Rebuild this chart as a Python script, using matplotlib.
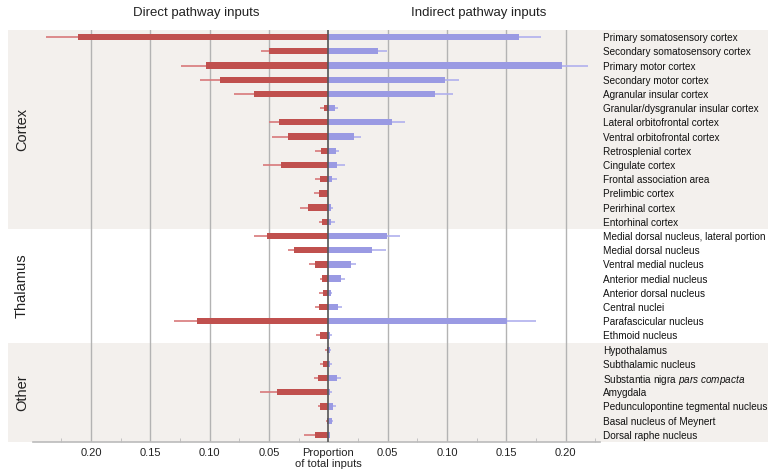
import matplotlib
matplotlib.use('Agg')
import matplotlib.pyplot as plt
import matplotlib.transforms as mtransforms
from matplotlib.patches import Rectangle
import numpy as np

plt.rcParams['font.family'] = ['Liberation Sans', 'DejaVu Sans']
plt.rcParams['mathtext.fontset'] = 'custom'
plt.rcParams['mathtext.rm'] = 'Liberation Sans'
plt.rcParams['mathtext.it'] = 'Liberation Sans:italic'

regions = [
    'Primary somatosensory cortex', 'Secondary somatosensory cortex', 'Primary motor cortex',
    'Secondary motor cortex', 'Agranular insular cortex', 'Granular/dysgranular insular cortex',
    'Lateral orbitofrontal cortex', 'Ventral orbitofrontal cortex', 'Retrosplenial cortex',
    'Cingulate cortex', 'Frontal association area', 'Prelimbic cortex', 'Perirhinal cortex',
    'Entorhinal cortex',
    'Medial dorsal nucleus, lateral portion', 'Medial dorsal nucleus', 'Ventral medial nucleus',
    'Anterior medial nucleus', 'Anterior dorsal nucleus', 'Central nuclei', 'Parafascicular nucleus',
    'Ethmoid nucleus',
    'Hypothalamus', 'Subthalamic nucleus', r'Substantia nigra $\mathit{pars\ compacta}$', 'Amygdala',
    'Pedunculopontine tegmental nucleus', 'Basal nucleus of Meynert', 'Dorsal raphe nucleus',
]
groups = ['Cortex', 'Thalamus', 'Other']
group_sizes = [14, 8, 7]

# mean proportion and upper error (sem) for each pathway
direct = [0.211, 0.050, 0.103, 0.0915, 0.0624, 0.0036, 0.0413, 0.0337, 0.0062, 0.0396, 0.007,
          0.0078, 0.0169, 0.005,
          0.0519, 0.0287, 0.011, 0.0053, 0.0042, 0.0076, 0.1107, 0.0067,
          0.0008, 0.0045, 0.0084, 0.043, 0.0067, 0.0014, 0.0112]
direct_err = [0.027, 0.007, 0.021, 0.017, 0.017, 0.0034, 0.0087, 0.014, 0.0048, 0.0157, 0.004,
              0.004, 0.007, 0.0026,
              0.0105, 0.005, 0.005, 0.0014, 0.0034, 0.0034, 0.0193, 0.0037,
              0.002, 0.0022, 0.0034, 0.0143, 0.0017, 0.0006, 0.0093]
indirect = [0.161, 0.0419, 0.197, 0.098, 0.0896, 0.0056, 0.0534, 0.0217, 0.0065, 0.0073, 0.0031,
            0.0, 0.0023, 0.0023,
            0.0497, 0.0368, 0.0191, 0.0107, 0.002, 0.0082, 0.1509, 0.0017,
            0.0014, 0.0014, 0.007, 0.0017, 0.0037, 0.0028, 0.0011]
indirect_err = [0.018, 0.0076, 0.022, 0.012, 0.0152, 0.0023, 0.0116, 0.0056, 0.0022, 0.0065, 0.0042,
                0.0, 0.0014, 0.0031,
                0.0103, 0.0115, 0.004, 0.0031, 0.0008, 0.0033, 0.0244, 0.0011,
                0.0006, 0.0017, 0.0034, 0.0014, 0.0025, 0.0009, 0.0003]

red = '#c0504e'
red_light = '#d8797a'
blue = '#9a9ae3'
blue_light = '#b0b0ee'
band = '#f3f0ed'

y = np.arange(len(regions))
direct = np.array(direct)
indirect = np.array(indirect)

fig = plt.figure(figsize=(7.68, 4.75), dpi=100)
ax = fig.add_axes([33 / 768, 33 / 475, 567 / 768, 412 / 475])
ax.patch.set_alpha(0)

ax.set_xlim(-0.249, 0.229)
ax.set_ylim(len(regions) - 0.5, -0.5)

# shaded group bands and group labels
trans = mtransforms.blended_transform_factory(fig.transFigure, ax.transData)
start = 0
for i, (g, n) in enumerate(zip(groups, group_sizes)):
    if i != 1:
        ax.add_patch(Rectangle((8 / 768, start - 0.5), 1 - 8 / 768, n, transform=trans,
                               facecolor=band, edgecolor='none', clip_on=False, zorder=0))
    ax.text(22 / 768, start - 0.5 + n / 2, g, transform=trans, rotation=90,
            ha='center', va='center', fontsize=10.5, color='#222222')
    start += n

for xv in [-0.2, -0.15, -0.1, -0.05, 0.05, 0.1, 0.15, 0.2]:
    ax.axvline(xv, color='#b3b3b3', lw=1.0, zorder=1)

# error lines
ax.hlines(y, -direct, -(direct + np.array(direct_err)), color=red_light, lw=1.2, zorder=2)
ax.hlines(y, indirect, indirect + np.array(indirect_err), color=blue_light, lw=1.2, zorder=2)
ax.barh(y, -direct, height=0.44, color=red, zorder=3)
ax.barh(y, indirect, height=0.44, color=blue, zorder=3)
ax.axvline(0, color='#555555', lw=1.2, zorder=4)

ax.set_yticks(y)
ax.set_yticklabels(regions, fontsize=7.2)
ax.yaxis.set_ticks_position('right')
ax.tick_params(axis='y', length=0, pad=2, colors='#111111')

ticks = [-0.2, -0.15, -0.1, -0.05, 0, 0.05, 0.1, 0.15, 0.2]
labels = ['Proportion\nof total inputs' if t == 0 else '%.2f' % abs(t) for t in ticks]
ax.set_xticks(ticks)
ax.set_xticklabels(labels, fontsize=8, color='#222222')
ax.set_xticks(np.arange(-0.225, 0.23, 0.05), minor=True)
ax.tick_params(axis='x', which='major', length=0, pad=4)
ax.tick_params(axis='x', which='minor', direction='in', length=3, color='#bbbbbb')

for s in ['top', 'left', 'right']:
    ax.spines[s].set_visible(False)
ax.spines['bottom'].set_color('#bbbbbb')
ax.spines['bottom'].set_linewidth(1.2)

fig.text(196 / 768, 1 - 13 / 475, 'Direct pathway inputs', ha='center', va='center',
         fontsize=9.5, color='#222222')
fig.text(479 / 768, 1 - 13 / 475, 'Indirect pathway inputs', ha='center', va='center',
         fontsize=9.5, color='#222222')

fig.savefig('out.png', dpi=100)
